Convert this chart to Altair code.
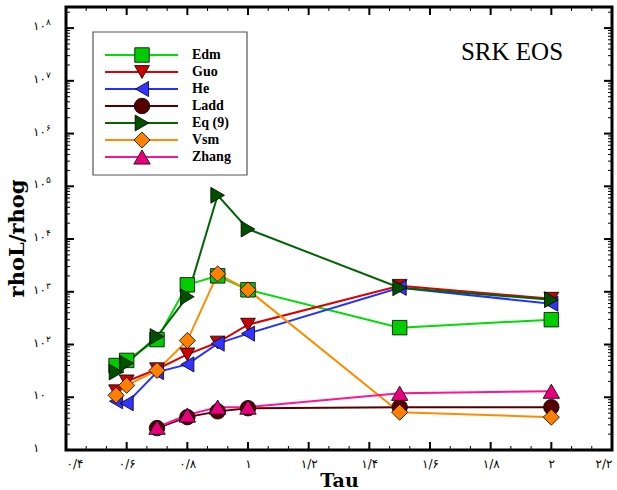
import json
import altair as alt
import pandas as pd

# ---- series definitions -------------------------------------------------
series_names = ["Edm", "Guo", "He", "Ladd", "Eq (9)", "Vsm", "Zhang"]
line_colors = ["#00dd00", "#dd0000", "#2233ff", "#550000", "#006400", "#ff8c00", "#ff1493"]
fill_colors = ["#00cc00", "#cc0000", "#3333ff", "#550000", "#005000", "#ff8000", "#e8007f"]
shapes = ["square", "triangle-down", "triangle-left", "circle", "triangle-right", "diamond", "triangle-up"]
marker_sizes = [210, 270, 270, 280, 270, 280, 260]
line_widths = [2, 2, 2, 3, 2, 2, 2]

# ---- values (Tau vs density ratio) ---------------------------------------
tau = [0.565, 0.6, 0.7, 0.8, 0.9, 1.0, 1.5, 2.0]
tau_short = [0.7, 0.8, 0.9, 1.0, 1.5, 2.0]

edm = [40, 50, 124, 1355, 2005, 1090, 209, 296]
guo = [13, 20, 34, 65, 109, 238, 1298, 738]
he = [8.4, 7.7, 30, 42, 104, 161, 1190, 594]
ladd = [2.6, 4.2, 5.4, 6.2, 6.5, 6.5]
eq9 = [30, 44, 142, 805, 67600, 15450, 1190, 707]
vsm = [10.9, 16.8, 32.3, 119, 2186, 1090, 5.2, 4.2]
zhang = [2.7, 4.6, 6.5, 6.5, 11.9, 13.0]

# ---- axis text ----------------------------------------------------------
x_tick_values = [0.4, 0.6, 0.8, 1.0, 1.2, 1.4, 1.6, 1.8, 2.0, 2.2]
x_tick_labels = ["۰/۴", "۰/۶", "۰/۸", "۱", "۱/۲", "۱/۴", "۱/۶", "۱/۸", "۲", "۲/۲"]
y_decades = [0, 1, 2, 3, 4, 5, 6, 7, 8]
y_label_base = ["۱", "۱۰", "۱۰", "۱۰", "۱۰", "۱۰", "۱۰", "۱۰", "۱۰"]
y_label_exp = ["", "", "۲", "۳", "۴", "۵", "۶", "۷", "۸"]
plot_title = ["SRK EOS"]

W, H = 546, 443
X_DOMAIN = [0.4, 2.2]
Y_DOMAIN = [1, 10 ** 8.4]

series_values = {
    "Edm": (tau, edm), "Guo": (tau, guo), "He": (tau, he), "Ladd": (tau_short, ladd),
    "Eq (9)": (tau, eq9), "Vsm": (tau, vsm), "Zhang": (tau_short, zhang),
}
rows = []
for i, name in enumerate(series_names):
    xs, ys = series_values[name]
    for k, (a, b) in enumerate(zip(xs, ys)):
        rows.append({"series": name, "tau": a, "ratio": b, "order": i * 100 + k})
df = pd.DataFrame(rows)

x_axis = alt.Axis(
    values=x_tick_values, ticks=False, domain=False, grid=False,
    labelExpr=json.dumps(x_tick_labels, ensure_ascii=False) + "[round((datum.value - 0.4) * 5)]",
    labelFont="DejaVu Sans", labelFontSize=12, labelColor="black", labelPadding=8,
    labelFlush=True, labelOverlap=False,
    title="Tau", titleFont="DejaVu Serif", titleFontSize=19, titleFontWeight="bold",
    titleColor="black", titlePadding=2,
)
y_axis = alt.Axis(
    labels=False, ticks=False, domain=False, grid=False,
    title="rhoL/rhog", titleFont="DejaVu Serif", titleFontSize=21, titleFontWeight="bold",
    titleColor="black", titleAngle=270, titleX=-49, titleY=231,
    titleAlign="center", titleBaseline="middle",
)


def X(field="tau"):
    return alt.X(f"{field}:Q", scale=alt.Scale(domain=X_DOMAIN, nice=False, zero=False), axis=x_axis)


def Y(field="ratio"):
    return alt.Y(f"{field}:Q", scale=alt.Scale(type="log", domain=Y_DOMAIN, nice=False), axis=y_axis)


color_scale = alt.Scale(domain=series_names, range=line_colors)
fill_scale = alt.Scale(domain=series_names, range=fill_colors)
shape_scale = alt.Scale(domain=series_names, range=shapes)
size_scale = alt.Scale(domain=series_names, range=marker_sizes)
width_scale = alt.Scale(domain=series_names, range=line_widths)

lines = alt.Chart(df).mark_line().encode(
    x=X(), y=Y(),
    color=alt.Color("series:N", scale=color_scale, legend=None),
    strokeWidth=alt.StrokeWidth("series:N", scale=width_scale, legend=None),
    order="order:Q",
)
points = alt.Chart(df).mark_point(filled=True, stroke="black", strokeWidth=0.8, opacity=1).encode(
    x=X(), y=Y(),
    fill=alt.Fill("series:N", scale=fill_scale, legend=None),
    shape=alt.Shape("series:N", scale=shape_scale, legend=None),
    size=alt.Size("series:N", scale=size_scale, legend=None),
    order="order:Q",
)

# ---- inward ticks on all four sides --------------------------------------
x_major_df = pd.DataFrame({"tau": x_tick_values})
x_minor = []
for a in x_tick_values[:-1]:
    x_minor += [a + 0.2 / 3, a + 0.4 / 3]
x_minor_df = pd.DataFrame({"tau": x_minor})
y_major_df = pd.DataFrame({"ratio": [10 ** d for d in y_decades]})
y_minor = [m * 10 ** d for d in range(0, 9) for m in range(2, 10) if m * 10 ** d <= Y_DOMAIN[1]]
y_minor_df = pd.DataFrame({"ratio": y_minor})

tick_layers = []
for src, length, sw in [(x_major_df, 8, 2), (x_minor_df, 4, 1)]:
    tick_layers.append(alt.Chart(src).mark_rule(color="black", strokeWidth=sw).encode(
        x=X(), y=alt.value(H), y2=alt.value(H - length)))
    tick_layers.append(alt.Chart(src).mark_rule(color="black", strokeWidth=sw).encode(
        x=X(), y=alt.value(0), y2=alt.value(length)))
for src, length, sw in [(y_major_df, 8, 2), (y_minor_df, 4, 1)]:
    tick_layers.append(alt.Chart(src).mark_rule(color="black", strokeWidth=sw).encode(
        y=Y(), x=alt.value(0), x2=alt.value(length)))
    tick_layers.append(alt.Chart(src).mark_rule(color="black", strokeWidth=sw).encode(
        y=Y(), x=alt.value(W), x2=alt.value(W - length)))

# ---- y tick labels: 10 with a raised exponent ------------------------------
ylab_df = pd.DataFrame({
    "ratio": [10 ** d for d in y_decades], "base": y_label_base, "exp": y_label_exp,
})
ylab_base = alt.Chart(ylab_df).mark_text(
    align="left", baseline="middle", font="DejaVu Sans", fontSize=12, color="black", dy=-2
).encode(y=Y(), x=alt.value(-33), text="base:N")
ylab_exp = alt.Chart(ylab_df).mark_text(
    align="left", baseline="middle", font="DejaVu Sans", fontSize=9, color="black", dy=-6
).encode(y=Y(), x=alt.value(-20), text="exp:N")

main = alt.layer(lines, points, *tick_layers, ylab_base, ylab_exp)

# ---- legend box ---------------------------------------------------------
leg_df = pd.DataFrame({"series": series_names, "row": list(range(len(series_names)))})
leg_y = alt.Y("row:Q", scale=alt.Scale(domain=[0, 6], range=[48, 150]), axis=None)
box = alt.Chart(pd.DataFrame({"k": [0]})).mark_rect(
    fill="white", stroke="#555555", strokeWidth=1.2
).encode(x=alt.value(27), x2=alt.value(181), y=alt.value(25), y2=alt.value(168))
leg_lines = alt.Chart(leg_df).mark_rule().encode(
    x=alt.value(39), x2=alt.value(112), y=leg_y,
    color=alt.Color("series:N", scale=color_scale, legend=None),
    strokeWidth=alt.StrokeWidth("series:N", scale=width_scale, legend=None),
)
leg_points = alt.Chart(leg_df).mark_point(filled=True, stroke="black", strokeWidth=0.8, opacity=1).encode(
    x=alt.value(76), y=leg_y,
    fill=alt.Fill("series:N", scale=fill_scale, legend=None),
    shape=alt.Shape("series:N", scale=shape_scale, legend=None),
    size=alt.Size("series:N", scale=size_scale, legend=None),
)
leg_text = alt.Chart(leg_df).mark_text(
    align="left", baseline="middle", font="Liberation Serif", fontWeight="bold", fontSize=14, color="black"
).encode(x=alt.value(126), y=leg_y, text="series:N")
title_text = alt.Chart(pd.DataFrame({"label": plot_title})).mark_text(
    align="center", baseline="alphabetic", font="Liberation Serif", fontSize=25, color="black"
).encode(x=alt.value(446), y=alt.value(53), text="label:N")

legend = alt.layer(box, leg_lines, leg_points, leg_text, title_text)

chart = alt.layer(main, legend).resolve_scale(y="independent").properties(
    width=W, height=H,
    autosize=alt.AutoSizeParams(type="none"),
    padding={"left": 66, "top": 7, "right": 5, "bottom": 40},
    background="white",
).configure_view(stroke="black", strokeWidth=3)

chart.save("out.html", embed_options={"renderer": "svg", "actions": False})
